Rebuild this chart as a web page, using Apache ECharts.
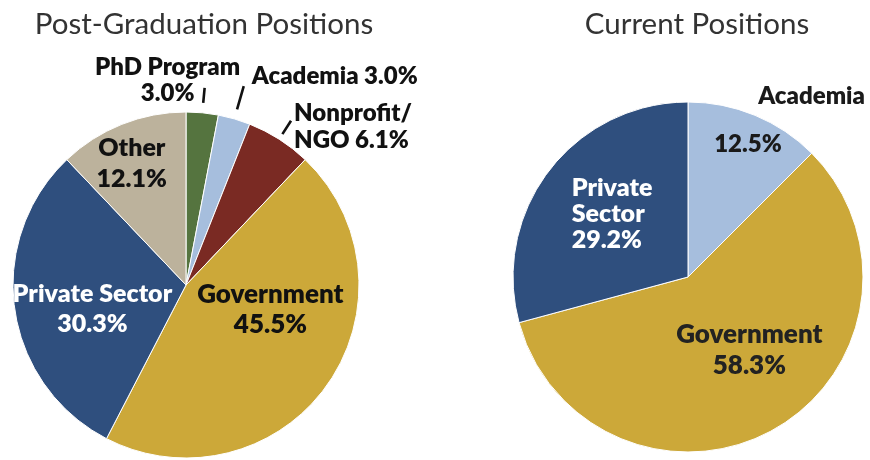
<!DOCTYPE html>
<html>
<head>
<meta charset="utf-8">
<script src="https://cdn.jsdelivr.net/npm/echarts@6/dist/echarts.min.js"></script>
<style>
  html, body { margin: 0; padding: 0; background: #fff; }
  #chart { width: 870px; height: 460px; }
</style>
</head>
<body>
<div id="chart"></div>
<script>
// Share of graduates by sector right after graduation, clockwise from 12 o'clock
const postGradNames = ['PhD Program', 'Academia', 'Nonprofit/\nNGO', 'Government', 'Private Sector', 'Other'];
const postGradShares = [3.0, 3.0, 6.1, 45.5, 30.3, 12.1];

// Share of graduates by sector today, clockwise from 12 o'clock
const currentNames = ['Academia', 'Government', 'Private\nSector'];
const currentShares = [12.5, 58.3, 29.2];

const chartTitles = ['Post-Graduation Positions', 'Current Positions'];

const sectorColors = {
  'PhD Program': '#55743f',
  'Academia': '#a6bedd',
  'Nonprofit/\nNGO': '#7a2a23',
  'Government': '#cca839',
  'Private Sector': '#2f4f7e',
  'Private\nSector': '#2f4f7e',
  'Other': '#bcb29c'
};

const FONT = 'Lato, "Noto Sans", sans-serif';
const WEIGHT = 800;
const pct = v => v.toFixed(1) + '%';

// Label styling for the post-graduation pie (index-aligned with the data)
const postGradLabelCfg = [
  { pos: 'outside', join: '\n', size: 24, lh: 26, color: '#111', line: 25, gap: 10, shift: [-42, -8, 'center'] },
  { pos: 'outside', join: ' ',  size: 24, lh: 26, color: '#111', line: 34, gap: 10, shift: [3, -10] },
  { pos: 'outside', join: ' ',  size: 24, lh: 27, color: '#111', line: 22, gap: 6,  shift: [-2, 6] },
  { pos: 'inside',  join: '\n', size: 26, lh: 30, color: '#111', shift: [11.5, -27] },
  { pos: 'inside',  join: '\n', size: 25, lh: 30, color: '#fff', shift: [-5, 11] },
  { pos: 'inside',  join: '\n', size: 25, lh: 31, color: '#111', shift: [-21, -38] }
];

// Label styling for the current-positions pie
const currentLabelCfg = [
  { color: '#222', shift: [-8.5, -73, 'left'] },
  { color: '#222', size: 26, lh: 31, shift: [16, -5] },
  { color: '#fff', size: 25, lh: 26, shift: [-44.5, -8, 'left'] }
];

function shiftFn(cfg) {
  return function (p) {
    const s = cfg[p.dataIndex].shift;
    const out = { dx: s[0], dy: s[1] };
    if (s[2]) out.align = s[2];
    return out;
  };
}

const postGradData = postGradNames.map((name, i) => {
  const c = postGradLabelCfg[i];
  const item = {
    name: name,
    value: postGradShares[i],
    itemStyle: { color: sectorColors[name] },
    label: {
      position: c.pos,
      fontSize: c.size,
      lineHeight: c.lh,
      color: c.color,
      formatter: p => p.name + c.join + pct(p.value)
    }
  };
  if (c.pos === 'outside') {
    item.labelLine = {
      show: true,
      length: c.line,
      length2: 0,
      lineStyle: { color: '#111', width: 2.6, type: [0, c.gap, c.line - c.gap, 200] }
    };
  } else {
    item.labelLine = { show: false };
  }
  return item;
});

const currentData = currentNames.map((name, i) => {
  const c = currentLabelCfg[i];
  const item = {
    name: name,
    value: currentShares[i],
    itemStyle: { color: sectorColors[name] },
    label: { color: c.color }
  };
  if (i === 0) {
    // name sits above the slice, value inside it
    item.label.formatter = p => '{n|' + p.name + '}\n{g| }\n{v|' + pct(p.value) + '}';
    item.label.rich = {
      n: { fontFamily: FONT, fontWeight: WEIGHT, fontSize: 24, lineHeight: 26, color: '#1a1a1a', padding: [0, 0, 0, 44] },
      g: { fontSize: 10, lineHeight: 22 },
      v: { fontFamily: FONT, fontWeight: WEIGHT, fontSize: 24, lineHeight: 26, color: '#1a1a1a' }
    };
  } else {
    item.label.fontSize = c.size;
    item.label.lineHeight = c.lh;
    item.label.formatter = p => p.name + '\n' + pct(p.value);
  }
  return item;
});

const chart = echarts.init(document.getElementById('chart'), null, { renderer: 'canvas' });

const titleStyle = { fontFamily: FONT, fontWeight: 'normal', fontSize: 29.5, color: '#333' };

chart.setOption({
  animation: false,
  backgroundColor: '#fff',
  title: [
    { text: chartTitles[0], left: 199, top: 4, textAlign: 'center', textStyle: titleStyle },
    { text: chartTitles[1], left: 692, top: 4, textAlign: 'center', textStyle: titleStyle }
  ],
  series: [
    {
      type: 'pie',
      center: [186, 285],
      radius: 173,
      startAngle: 90,
      clockwise: true,
      avoidLabelOverlap: false,
      silent: true,
      itemStyle: { borderColor: '#fff', borderWidth: 1 },
      label: { fontFamily: FONT, fontWeight: WEIGHT, distanceToLabelLine: 5 },
      labelLayout: shiftFn(postGradLabelCfg),
      data: postGradData
    },
    {
      type: 'pie',
      center: [688, 277],
      radius: 175,
      startAngle: 90,
      clockwise: true,
      avoidLabelOverlap: false,
      silent: true,
      itemStyle: { borderColor: '#fff', borderWidth: 1 },
      label: { position: 'inside', fontFamily: FONT, fontWeight: WEIGHT },
      labelLine: { show: false },
      labelLayout: shiftFn(currentLabelCfg),
      data: currentData
    }
  ]
});
</script>
</body>
</html>
